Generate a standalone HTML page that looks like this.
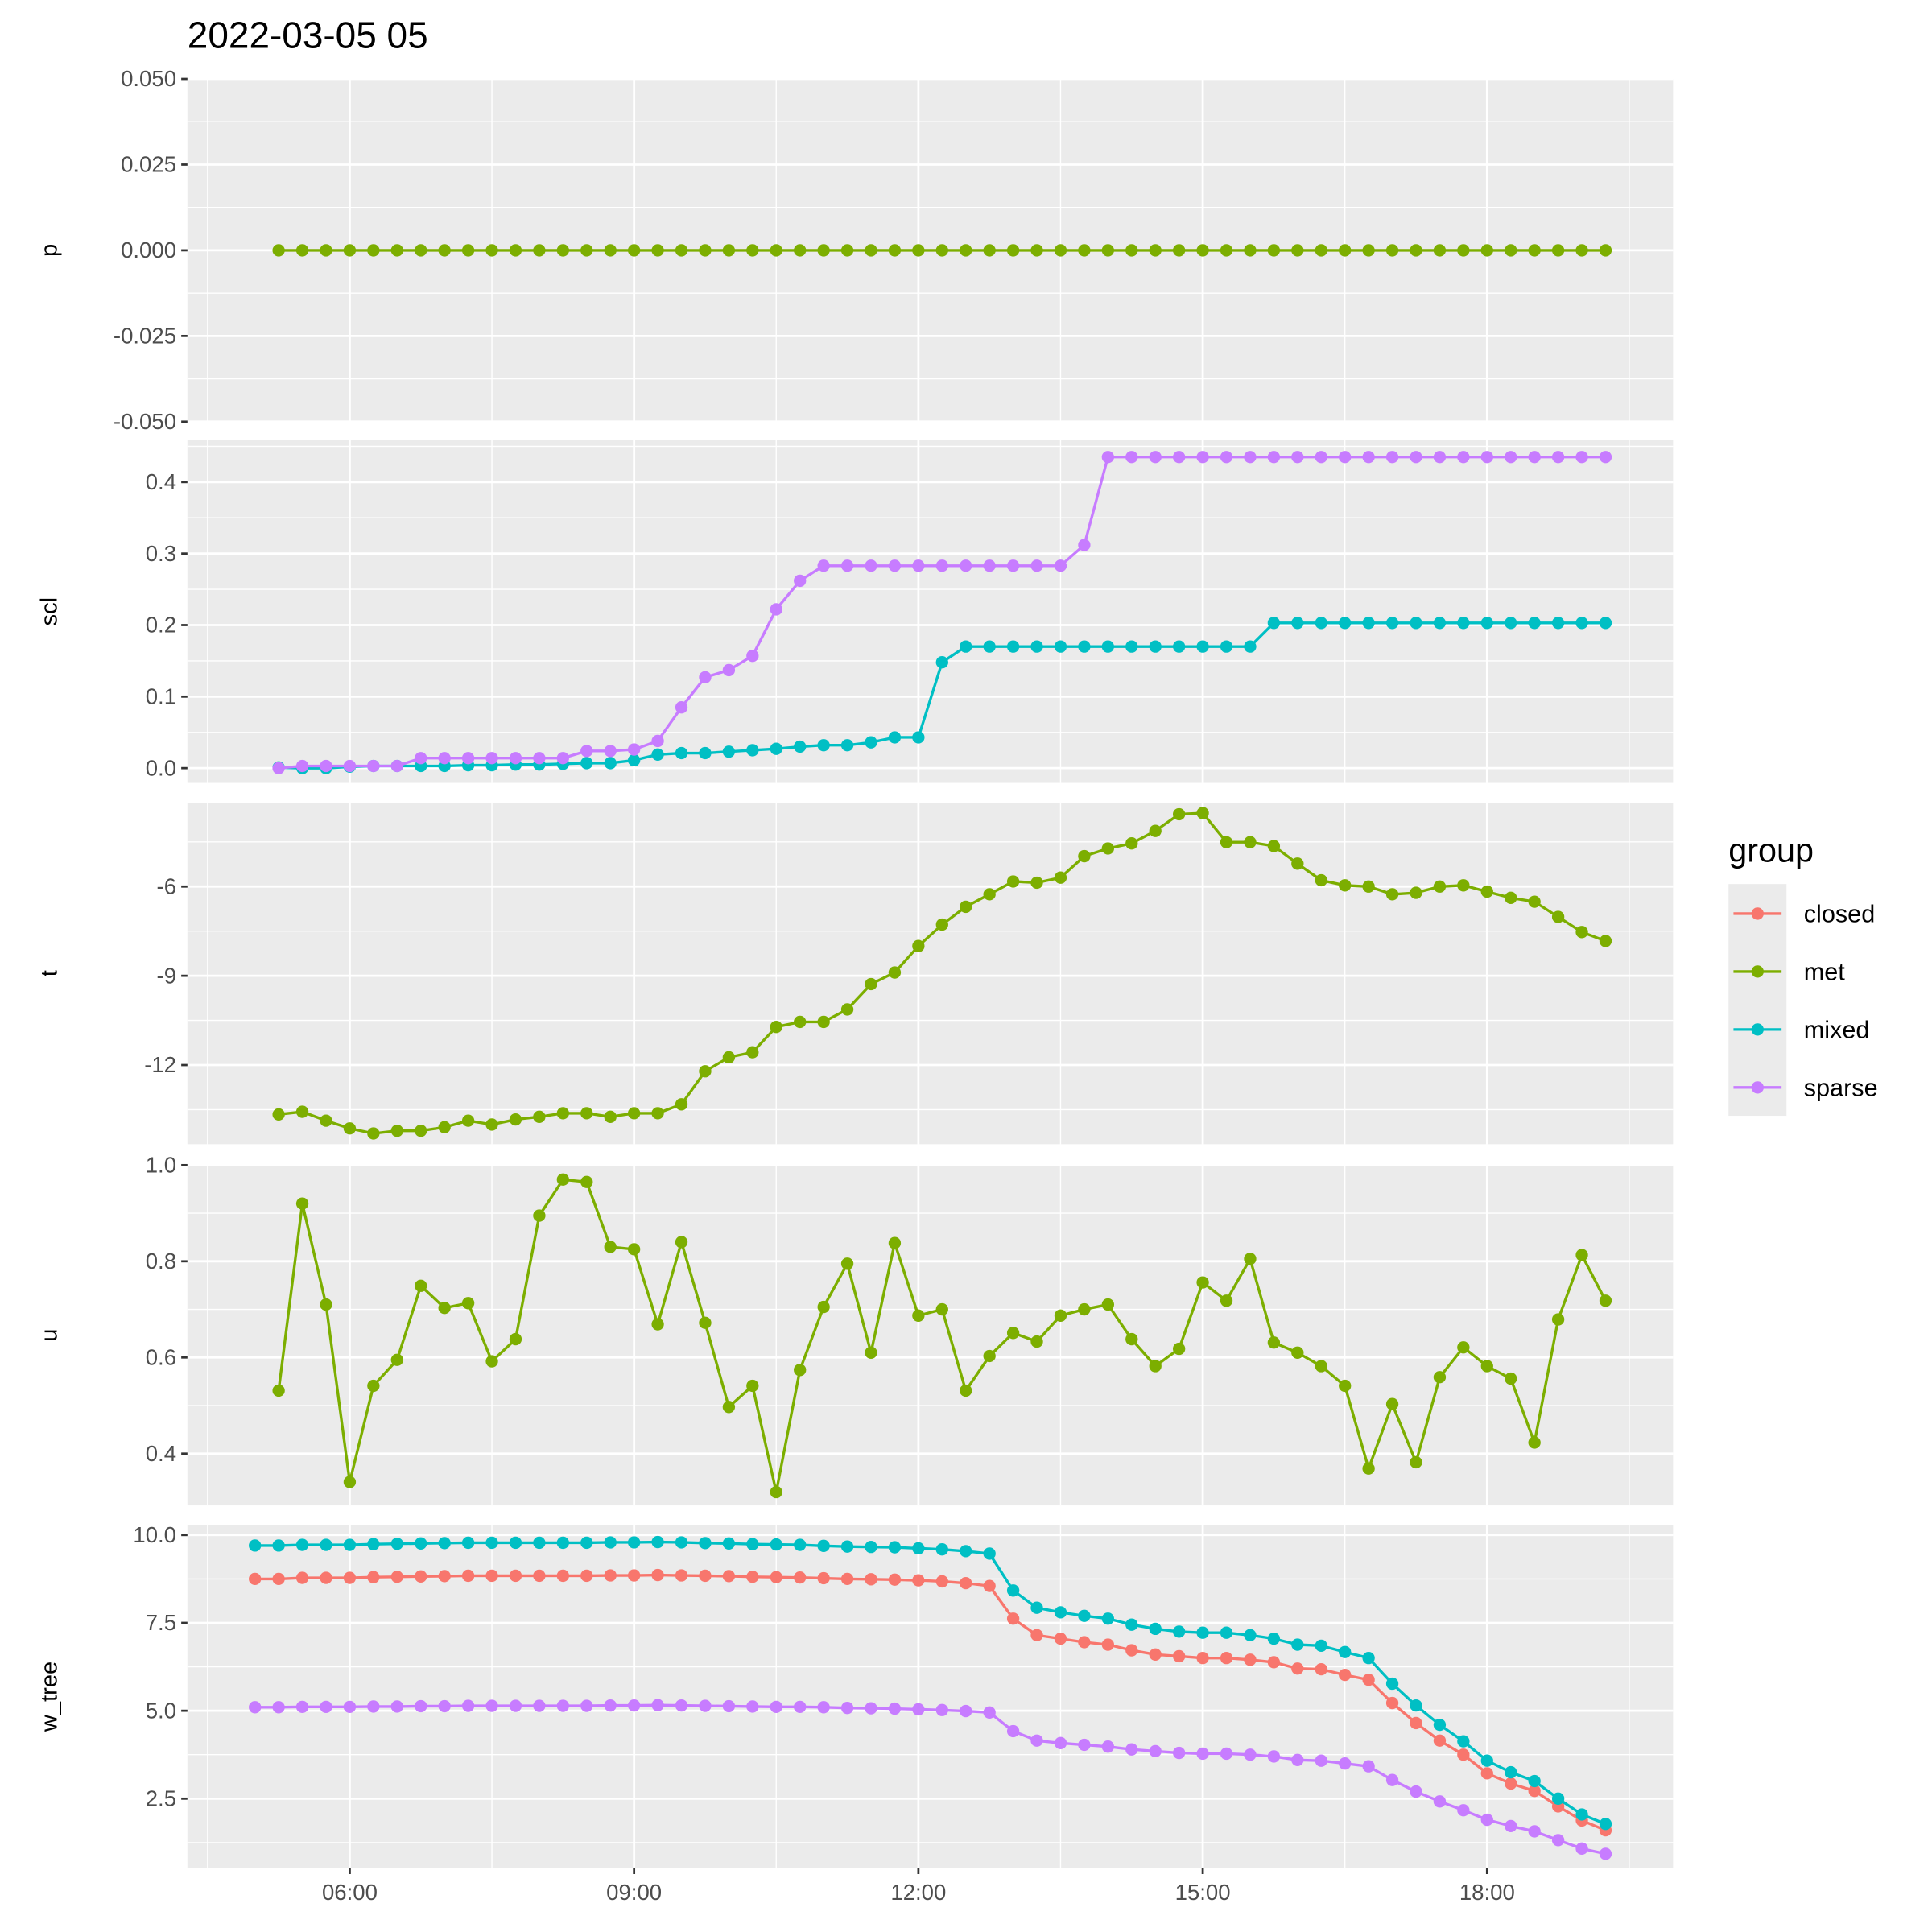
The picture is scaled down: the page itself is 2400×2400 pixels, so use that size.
<!DOCTYPE html>
<html><head><meta charset="utf-8"><style>
html,body{margin:0;padding:0;background:#fff}
svg{display:block;font-family:"Liberation Sans","DejaVu Sans",sans-serif}
</style></head><body>
<svg id="chart" width="2400" height="2400" viewBox="0 0 1567 1567" xmlns="http://www.w3.org/2000/svg">
<text x="152" y="39" font-size="30" fill="#000">2022-03-05 05</text>
</svg>
<script>
// ---- data ----
const startHour = 5.25;            // first observation (05:15) for p, scl, t, u
const wStartHour = 5.0;            // first observation (05:00) for w_tree
const stepHours = 0.25;
const xTickLabels = ["06:00","09:00","12:00","15:00","18:00"];
const xTickHours = [6,9,12,15,18];
const groups = ["closed","met","mixed","sparse"];
const groupColors = ["#F8766D","#7CAE00","#00BFC4","#C77CFF"];

const pMet = [0,0,0,0,0,0,0,0,0,0,0,0,0,0,0,0,0,0,0,0,0,0,0,0,0,0,0,0,0,0,0,0,0,0,0,0,0,0,0,0,0,0,0,0,0,0,0,0,0,0,0,0,0,0,0,0,0];
const sclSparse = [0,0.003,0.003,0.003,0.003,0.003,0.014,0.014,0.014,0.014,0.014,0.014,0.014,0.024,0.024,0.026,0.038,0.085,0.127,0.137,0.157,0.222,0.262,0.283,0.283,0.283,0.283,0.283,0.283,0.283,0.283,0.283,0.283,0.283,0.312,0.435,0.435,0.435,0.435,0.435,0.435,0.435,0.435,0.435,0.435,0.435,0.435,0.435,0.435,0.435,0.435,0.435,0.435,0.435,0.435,0.435,0.435];
const sclMixed = [0.001,0,0,0.002,0.003,0.003,0.003,0.003,0.004,0.004,0.005,0.005,0.006,0.007,0.007,0.011,0.019,0.021,0.021,0.023,0.025,0.027,0.030,0.032,0.032,0.036,0.043,0.043,0.148,0.170,0.170,0.170,0.170,0.170,0.170,0.170,0.170,0.170,0.170,0.170,0.170,0.170,0.203,0.203,0.203,0.203,0.203,0.203,0.203,0.203,0.203,0.203,0.203,0.203,0.203,0.203,0.203];
const tMet = [-13.66,-13.57,-13.87,-14.13,-14.3,-14.21,-14.21,-14.09,-13.87,-14.0,-13.83,-13.74,-13.62,-13.62,-13.74,-13.62,-13.62,-13.32,-12.21,-11.74,-11.57,-10.72,-10.55,-10.55,-10.13,-9.28,-8.89,-8.0,-7.28,-6.68,-6.26,-5.83,-5.87,-5.70,-4.98,-4.72,-4.55,-4.13,-3.57,-3.53,-4.51,-4.51,-4.64,-5.23,-5.79,-5.96,-6.0,-6.26,-6.21,-6.0,-5.96,-6.17,-6.38,-6.51,-7.02,-7.53,-7.83];
const uMet = [0.531,0.92,0.71,0.341,0.541,0.595,0.749,0.703,0.713,0.592,0.638,0.895,0.97,0.965,0.83,0.825,0.669,0.84,0.672,0.497,0.541,0.32,0.574,0.705,0.795,0.61,0.838,0.687,0.7,0.531,0.603,0.651,0.633,0.687,0.7,0.71,0.638,0.582,0.618,0.756,0.718,0.805,0.631,0.61,0.582,0.541,0.369,0.503,0.382,0.559,0.621,0.582,0.556,0.423,0.679,0.813,0.718];
const wClosed = [8.75,8.75,8.78,8.78,8.78,8.8,8.81,8.82,8.83,8.84,8.84,8.84,8.84,8.84,8.84,8.85,8.85,8.86,8.85,8.84,8.83,8.81,8.8,8.79,8.77,8.75,8.74,8.73,8.71,8.68,8.63,8.55,7.62,7.15,7.05,6.95,6.88,6.72,6.6,6.55,6.5,6.5,6.45,6.38,6.2,6.18,6.02,5.88,5.22,4.65,4.15,3.75,3.22,2.93,2.72,2.28,1.88,1.6];
const wMixed = [9.7,9.7,9.72,9.72,9.72,9.74,9.75,9.76,9.77,9.78,9.78,9.78,9.78,9.78,9.78,9.79,9.79,9.8,9.79,9.77,9.76,9.74,9.73,9.72,9.69,9.67,9.66,9.65,9.62,9.59,9.54,9.47,8.42,7.93,7.8,7.7,7.62,7.45,7.33,7.25,7.22,7.22,7.15,7.05,6.88,6.85,6.67,6.5,5.77,5.15,4.6,4.13,3.58,3.25,3.0,2.5,2.05,1.78];
const wSparse = [5.1,5.1,5.11,5.11,5.11,5.12,5.12,5.13,5.13,5.14,5.14,5.14,5.14,5.14,5.14,5.15,5.15,5.16,5.15,5.14,5.13,5.12,5.11,5.11,5.1,5.08,5.07,5.06,5.04,5.02,4.99,4.95,4.42,4.15,4.08,4.03,3.98,3.9,3.85,3.8,3.78,3.78,3.75,3.7,3.6,3.58,3.5,3.42,3.03,2.7,2.42,2.17,1.9,1.72,1.57,1.32,1.08,0.93];

const pTicks = [0.05,0.025,0,-0.025,-0.05];
const pTickLabels = ["0.050","0.025","0.000","-0.025","-0.050"];
const sclTicks = [0,0.1,0.2,0.3,0.4];
const sclTickLabels = ["0.0","0.1","0.2","0.3","0.4"];
const tTicks = [-6,-9,-12];
const tTickLabels = ["-6","-9","-12"];
const uTicks = [0.4,0.6,0.8,1.0];
const uTickLabels = ["0.4","0.6","0.8","1.0"];
const wTicks = [2.5,5,7.5,10];
const wTickLabels = ["2.5","5.0","7.5","10.0"];

// ---- layout ----
const NS="http://www.w3.org/2000/svg";
const svg=document.getElementById('chart');
const PX0=152, PX1=1357;
const xMin=4.2875, xMax=19.9625;
function xScale(h){return PX0+(h-xMin)/(xMax-xMin)*(PX1-PX0);}
function mk(tag,attrs,parent){const e=document.createElementNS(NS,tag);for(const k in attrs)e.setAttribute(k,attrs[k]);(parent||svg).appendChild(e);return e;}

const panels=[
 {name:"p",top:64,bot:342,lo:-0.05,hi:0.05,ticks:pTicks,labels:pTickLabels,minor:[0.0375,0.0125,-0.0125,-0.0375],series:[{g:1,v:pMet,s:startHour}]},
 {name:"scl",top:357,bot:635,lo:-0.0207,hi:0.4586,ticks:sclTicks,labels:sclTickLabels,minor:[0.05,0.15,0.25,0.35,0.45],series:[{g:2,v:sclMixed,s:startHour},{g:3,v:sclSparse,s:startHour}]},
 {name:"t",top:651,bot:928,lo:-14.66,hi:-3.18,ticks:tTicks,labels:tTickLabels,minor:[-4.5,-7.5,-10.5,-13.5],series:[{g:1,v:tMet,s:startHour}]},
 {name:"u",top:945,bot:1221,lo:0.2923,hi:1.0,ticks:uTicks,labels:uTickLabels,minor:[0.5,0.7,0.9],series:[{g:1,v:uMet,s:startHour}]},
 {name:"w_tree",top:1237,bot:1515,lo:0.53,hi:10.28,ticks:wTicks,labels:wTickLabels,minor:[1.25,3.75,6.25,8.75],series:[{g:0,v:wClosed,s:wStartHour},{g:2,v:wMixed,s:wStartHour},{g:3,v:wSparse,s:wStartHour}]}
];
const xMinor=[4.5,7.5,10.5,13.5,16.5,19.5];

panels.forEach(function(P){
  const g=mk('g',{});
  
  
  const ys=v=>P.bot-(v-P.lo)/(P.hi-P.lo)*(P.bot-P.top);
  const bg=mk('rect',{x:PX0,y:P.top,width:PX1-PX0,height:P.bot-P.top,fill:'#EBEBEB'},g);
  
  
  P.minor.forEach(v=>{const y=ys(v);if(y>P.top&&y<P.bot)mk('line',{x1:PX0,x2:PX1,y1:y,y2:y,stroke:'#fff','stroke-width':0.9},g);});
  xMinor.forEach(h=>{const x=xScale(h);mk('line',{x1:x,x2:x,y1:P.top,y2:P.bot,stroke:'#fff','stroke-width':0.9},g);});
  P.ticks.forEach((v,i)=>{const y=ys(v);
    mk('line',{x1:PX0,x2:PX1,y1:y,y2:y,stroke:'#fff','stroke-width':1.8},g);
    mk('line',{x1:PX0-5,x2:PX0,y1:y,y2:y,stroke:'#333','stroke-width':1.8},g);
    const t=mk('text',{x:PX0-9,y:y+6,'text-anchor':'end','font-size':18,fill:'#4D4D4D'},g);
    t.textContent=P.labels[i];
    
    
  });
  xTickHours.forEach(h=>{const x=xScale(h);mk('line',{x1:x,x2:x,y1:P.top,y2:P.bot,stroke:'#fff','stroke-width':1.8},g);});
  const at=mk('text',{transform:'translate(46,'+((P.top+P.bot)/2)+') rotate(-90)','text-anchor':'middle','font-size':19,fill:'#000'},g);
  at.textContent=P.name;
  
  
  P.series.forEach(S=>{
    const col=groupColors[S.g];
    const pts=S.v.map((v,i)=>[xScale(S.s+i*stepHours),ys(v)]);
    const line=mk('polyline',{points:pts.map(p=>p[0].toFixed(2)+','+p[1].toFixed(2)).join(' '),fill:'none',stroke:col,'stroke-width':2.2,'stroke-linejoin':'round'},g);
    
    
    pts.forEach(p=>{
      const c=mk('circle',{cx:p[0],cy:p[1],r:5,fill:col},g);
      
      
    });
  });
});
// x axis ticks
xTickHours.forEach((h,i)=>{const x=xScale(h);
  mk('line',{x1:x,x2:x,y1:1515,y2:1520,stroke:'#333','stroke-width':1.8});
  const t=mk('text',{x:x,y:1541,'text-anchor':'middle','font-size':18,fill:'#4D4D4D'});
  t.textContent=xTickLabels[i];
  
  
});
// legend
const lg=mk('g',{});


const lt=mk('text',{x:1402,y:699,'font-size':27,fill:'#000'},lg);
lt.textContent='group';


mk('rect',{x:1402,y:717,width:47,height:188,fill:'#EBEBEB'},lg);
groups.forEach((gname,i)=>{
  const y=741+i*47;
  const e=mk('g',{},lg);
  
  
  mk('line',{x1:1406,x2:1445,y1:y,y2:y,stroke:groupColors[i],'stroke-width':2.2},e);
  mk('circle',{cx:1425.5,cy:y,r:5,fill:groupColors[i]},e);
  const t=mk('text',{x:1463,y:y+7,'font-size':20,fill:'#000'},e);
  t.textContent=gname;
});
</script>
</body></html>
